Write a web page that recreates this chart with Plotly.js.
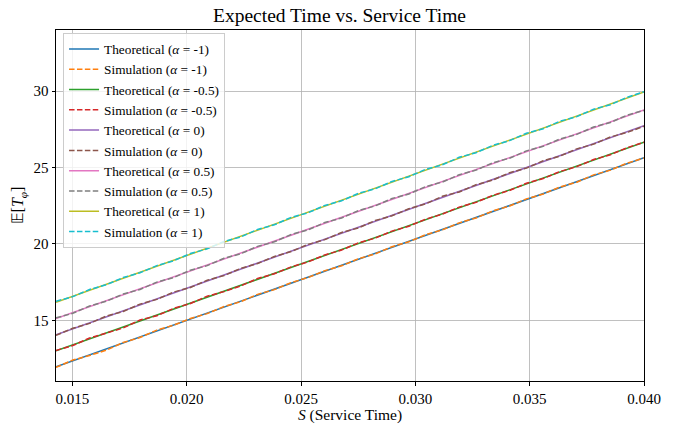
<!DOCTYPE html>
<html><head><meta charset="utf-8">
<script src="https://cdn.plot.ly/plotly-3.0.1.min.js"></script>
<style>html,body{margin:0;padding:0;background:#fff}</style>
</head><body><div id="chart" style="width:679px;height:424px"></div>
<script>
// Service time grid (simulation)
var simS = [0.014286,0.015021,0.015755,0.016490,0.017225,0.017959,0.018694,0.019429,0.020163,0.020898,0.021633,0.022367,0.023102,0.023837,0.024571,0.025306,0.026041,0.026776,0.027510,0.028245,0.028980,0.029714,0.030449,0.031184,0.031918,0.032653,0.033388,0.034122,0.034857,0.035592,0.036327,0.037061,0.037796,0.038531,0.039265,0.040000];
// Theoretical lines (linear in S)
var theoS = [0.014286, 0.040000];
var alphaLabels = ['-1', '-0.5', '0', '0.5', '1'];
var theoM1 = [11.96, 25.64];
var theoM05 = [13.00, 26.66];
var theo0 = [14.06, 27.73];
var theoP05 = [15.11, 28.77];
var theoP1 = [16.18, 29.94];
// Simulation results
var simM1 = [11.92,12.40,12.70,13.05,13.55,13.88,14.36,14.68,15.12,15.44,15.90,16.22,16.70,17.01,17.47,17.80,18.25,18.57,19.03,19.35,19.82,20.14,20.60,20.92,21.38,21.70,22.16,22.48,22.95,23.27,23.73,24.04,24.52,24.83,25.29,25.62];
var simM05 = [13.03,13.35,13.84,14.15,14.50,15.02,15.30,15.78,16.10,16.58,16.88,17.25,17.74,18.05,18.50,18.82,19.28,19.60,20.07,20.38,20.84,21.16,21.62,21.95,22.41,22.72,23.18,23.50,23.97,24.28,24.74,25.06,25.52,25.84,26.30,26.66];
var sim0 = [14.02,14.48,14.80,15.28,15.58,16.06,16.37,16.85,17.15,17.62,17.93,18.40,18.72,19.18,19.50,19.97,20.28,20.75,21.05,21.53,21.84,22.30,22.62,23.12,23.40,23.87,24.18,24.66,24.96,25.44,25.75,26.22,26.53,27.00,27.30,27.70];
var simP05 = [15.16,15.46,15.94,16.25,16.72,17.02,17.50,17.80,18.28,18.58,19.06,19.36,19.84,20.14,20.62,20.92,21.40,21.70,22.18,22.49,22.97,23.27,23.75,24.05,24.53,24.83,25.31,25.61,26.09,26.39,26.87,27.17,27.65,27.95,28.43,28.74];
var simP1 = [16.25,16.55,17.02,17.33,17.80,18.11,18.58,18.90,19.37,19.68,20.16,20.46,20.95,21.25,21.74,22.04,22.52,22.82,23.31,23.61,24.09,24.40,24.88,25.18,25.67,25.97,26.45,26.76,27.24,27.54,28.03,28.33,28.82,29.11,29.60,29.96];
var xTicks = [0.015, 0.020, 0.025, 0.030, 0.035, 0.040];
var yTicks = [15, 20, 25, 30];

var theoArr = [theoM1, theoM05, theo0, theoP05, theoP1];
var simArr = [simM1, simM05, sim0, simP05, simP1];
var theoColors = ['#1f77b4', '#2ca02c', '#9467bd', '#e377c2', '#bcbd22'];
var simColors = ['#ff7f0e', '#d62728', '#8c564b', '#7f7f7f', '#17becf'];

var traces = [];
for (var i = 0; i < 5; i++) {
  traces.push({x: theoS, y: theoArr[i], mode: 'lines', type: 'scatter',
    name: 'Theoretical (<i>α</i> = ' + alphaLabels[i] + ')',
    line: {color: theoColors[i], width: 1.5}});
  traces.push({x: simS, y: simArr[i], mode: 'lines', type: 'scatter',
    name: 'Simulation (<i>α</i> = ' + alphaLabels[i] + ')',
    line: {color: simColors[i], width: 1.5, dash: '5.5px,2.4px'}});
}

var serif = "'Liberation Serif', 'Times New Roman', Times, serif";
var layout = {
  width: 679, height: 424,
  margin: {l: 56, r: 35, t: 30, b: 43},
  paper_bgcolor: '#fff', plot_bgcolor: '#fff',
  font: {family: serif, color: '#000', size: 15},
  title: {text: 'Expected Time vs. Service Time', font: {family: serif, size: 19.5, color: '#000'}, x: 0.5, xanchor: 'center', y: 0.98, yanchor: 'top'},
  xaxis: {
    range: [0.014286, 0.04], tickvals: xTicks, tickformat: '.3f',
    showgrid: true, gridcolor: '#b0b0b0', gridwidth: 0.8,
    showline: true, linecolor: '#000', linewidth: 1, mirror: true,
    ticks: 'outside', ticklen: 3.5, tickcolor: '#000', zeroline: false,
    tickfont: {family: serif, size: 15, color: '#000'},
    title: {text: '<i>S</i> (Service Time)', font: {family: serif, size: 15.5, color: '#000'}, standoff: 0}
  },
  yaxis: {
    range: [11.03, 34.0], tickvals: yTicks,
    showgrid: true, gridcolor: '#b0b0b0', gridwidth: 0.8,
    showline: true, linecolor: '#000', linewidth: 1, mirror: true,
    ticks: 'outside', ticklen: 3.5, tickcolor: '#000', zeroline: false,
    tickfont: {family: serif, size: 15, color: '#000'},
    title: {text: '𝔼[<i>T</i><sub><i>φ</i></sub>]', font: {family: serif, size: 16, color: '#000'}, standoff: 5}
  },
  showlegend: true,
  legend: {x: 0.012, y: 0.992, xanchor: 'left', yanchor: 'top',
    bgcolor: 'rgba(255,255,255,0.8)', bordercolor: '#cccccc', borderwidth: 1,
    font: {family: serif, size: 13.3, color: '#000'}, tracegroupgap: 0, itemwidth: 30}
};
Plotly.newPlot('chart', traces, layout, {displayModeBar: false, staticPlot: true});
</script></body></html>
